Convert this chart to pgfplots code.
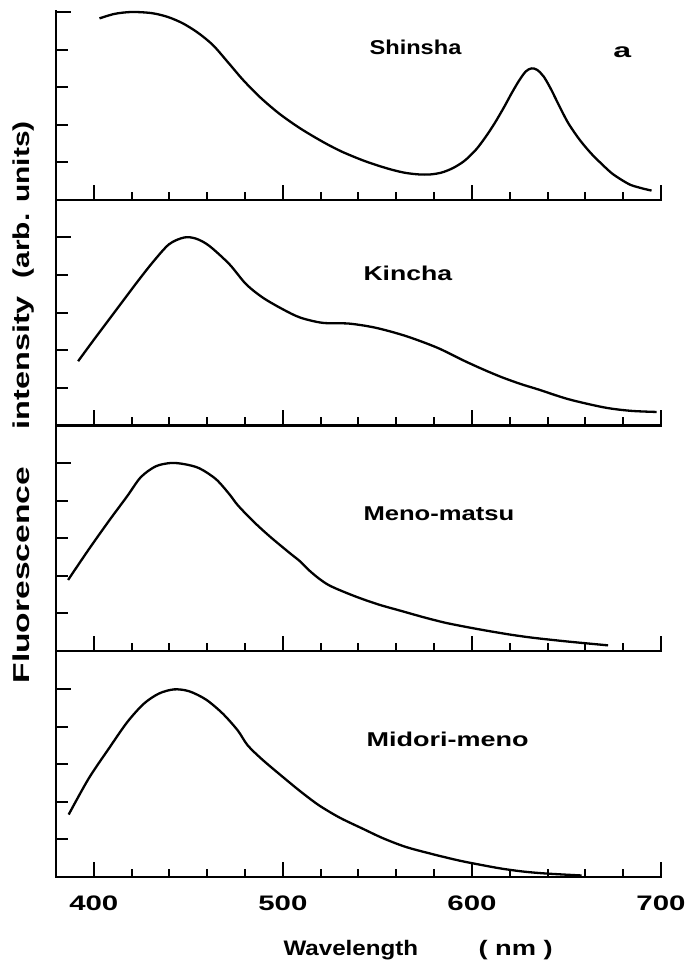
\documentclass[border=0pt]{standalone}
\usepackage{fontspec}
\setmainfont{Liberation Sans}
\usepackage{pgfplots}
\pgfplotsset{compat=1.18}
\newcommand{\sx}[2]{\scalebox{#1}[1]{#2}}
\tikzset{lbl/.style={anchor=base west, font=\bfseries\fontsize{20}{24}\selectfont}}
\pgfplotsset{panel/.style={
  x=1.8906pt, y=37.6pt, xmin=380, xmax=700, ymin=0, ymax=6,
  anchor=south west,
  axis x line=bottom, axis y line=left,
  axis line style={-, line width=2.6pt, line cap=rect},
  tick align=inside,
  xtick={400,500,600,700}, minor xtick={420,440,...,680},
  ytick={5}, extra y ticks={1,2,3,4},
  extra tick style={major tick length=12pt},
  major tick length=15pt, minor tick length=8pt,
  every tick/.style={black, line width=2pt},
  xticklabels={}, yticklabels={}, extra y tick labels={},
  clip=false,
}}
\begin{document}
\begin{tikzpicture}
% Panel 4: Midori-meno
\begin{axis}[panel, at={(56pt,90pt)},
  xticklabels={\sx{1.4}{400},\sx{1.4}{500},\sx{1.4}{600},\sx{1.4}{700}},
  xticklabel style={anchor=base, yshift=-33pt, font=\bfseries\fontsize{21}{24}\selectfont}]
\addplot[black, line width=2.3pt, smooth, tension=0.5] coordinates {
(386.7,1.66) (397.3,2.62) (408,3.42) (417.7,4.12) (426.5,4.61) (434.5,4.88)
(442.5,4.99) (450.4,4.94) (459.3,4.72) (468.1,4.35) (476.1,3.90) (481.4,3.50)
(489.4,3.11) (500,2.66) (509.2,2.28) (519,1.91) (530,1.58) (542,1.29) (553,1.03)
(565,0.80) (579,0.61) (593,0.44) (605,0.32) (616,0.22) (628,0.14) (640,0.09) (658,0.04)};
\node[lbl] at (axis cs:542.4,3.48) {\sx{1.35}{Midori-meno}};
\end{axis}
% Panel 3: Meno-matsu
\begin{axis}[panel, at={(56pt,316pt)}]
\addplot[black, line width=2.3pt, smooth, tension=0.5] coordinates {
(386.4,1.89) (397.3,2.70) (408,3.46) (417.7,4.12) (424.8,4.62) (432.7,4.91)
(440.7,5.00) (447.8,4.97) (455.8,4.86) (464.6,4.57) (471.7,4.17) (476.1,3.88)
(484.1,3.46) (493,3.05) (503.5,2.61) (509.2,2.38) (514,2.14) (519,1.93) (524,1.76)
(530,1.62) (540,1.42) (551,1.23) (563,1.06) (575,0.89) (586,0.75) (598,0.63)
(609,0.53) (621,0.43) (632.6,0.35) (651,0.25) (672,0.15)};
\node[lbl] at (axis cs:540.8,3.46) {\sx{1.28}{Meno-matsu}};
\end{axis}
% Panel 2: Kincha
\begin{axis}[panel, at={(56pt,541.5pt)}]
\addplot[black, line width=2.3pt, smooth, tension=0.5] coordinates {
(391.7,1.71) (400.9,2.34) (411.5,3.05) (422.1,3.76) (431,4.33) (439.8,4.82)
(447.8,5.00) (454,4.97) (461,4.78) (471.7,4.29) (480.5,3.76) (489.4,3.40)
(500,3.09) (509.2,2.87) (521,2.73) (535,2.71) (549,2.60) (565,2.38) (581.6,2.07)
(595.5,1.73) (606,1.49) (616,1.28) (626,1.10) (635,0.96) (651,0.70) (670,0.48)
(684,0.39) (697.7,0.36)};
\node[lbl] at (axis cs:540.8,3.86) {\sx{1.33}{Kincha}};
\end{axis}
% Panel 1: Shinsha
\begin{axis}[panel, at={(56pt,767pt)}, ymax=5.02]
\addplot[black, line width=2.3pt, smooth, tension=0.5] coordinates {
(403,4.83) (411,4.95) (420,5.00) (430.6,4.97) (439,4.87) (447,4.70) (455,4.45)
(463,4.12) (471,3.66) (479,3.19) (488,2.73) (498,2.30) (509,1.91) (521,1.55)
(531,1.29) (542,1.06) (550,0.92) (558,0.80) (565,0.72) (572,0.68) (578,0.68)
(584,0.73) (590,0.85) (596,1.04) (602,1.33) (607,1.66) (612,2.04) (617,2.47)
(621,2.84) (625,3.18) (628.5,3.42) (631.5,3.50) (634.5,3.46) (638,3.28) (642,2.93)
(646,2.52) (651,2.04) (657,1.60) (663,1.24) (669,0.94) (674,0.71) (679,0.54)
(684,0.40) (690,0.31) (695,0.25)};
\node[lbl] at (axis cs:544,3.86) {\sx{1.18}{Shinsha}};
\node[lbl] at (axis cs:673,3.80) {\sx{1.6}{a}};
\end{axis}
% axis titles
\node[anchor=base west, font=\bfseries\fontsize{21}{24}\selectfont] at (280pt,11pt) {\sx{1.15}{Wavelength}};
\node[anchor=base west, font=\bfseries\fontsize{21}{24}\selectfont] at (475pt,11pt) {\sx{1.3}{( nm )}};
\node[anchor=base west, rotate=90, font=\bfseries\fontsize{23}{26}\selectfont] at (29pt,280pt) {\sx{1.46}{Fluorescence}};
\node[anchor=base west, rotate=90, font=\bfseries\fontsize{23}{26}\selectfont] at (29pt,534pt) {\sx{1.41}{intensity}};
\node[anchor=base west, rotate=90, font=\bfseries\fontsize{23}{26}\selectfont] at (29pt,685pt) {\sx{1.30}{(arb. units)}};
\pgfresetboundingbox
\useasboundingbox (0,0) rectangle (685pt,967pt);
\end{tikzpicture}
\end{document}
